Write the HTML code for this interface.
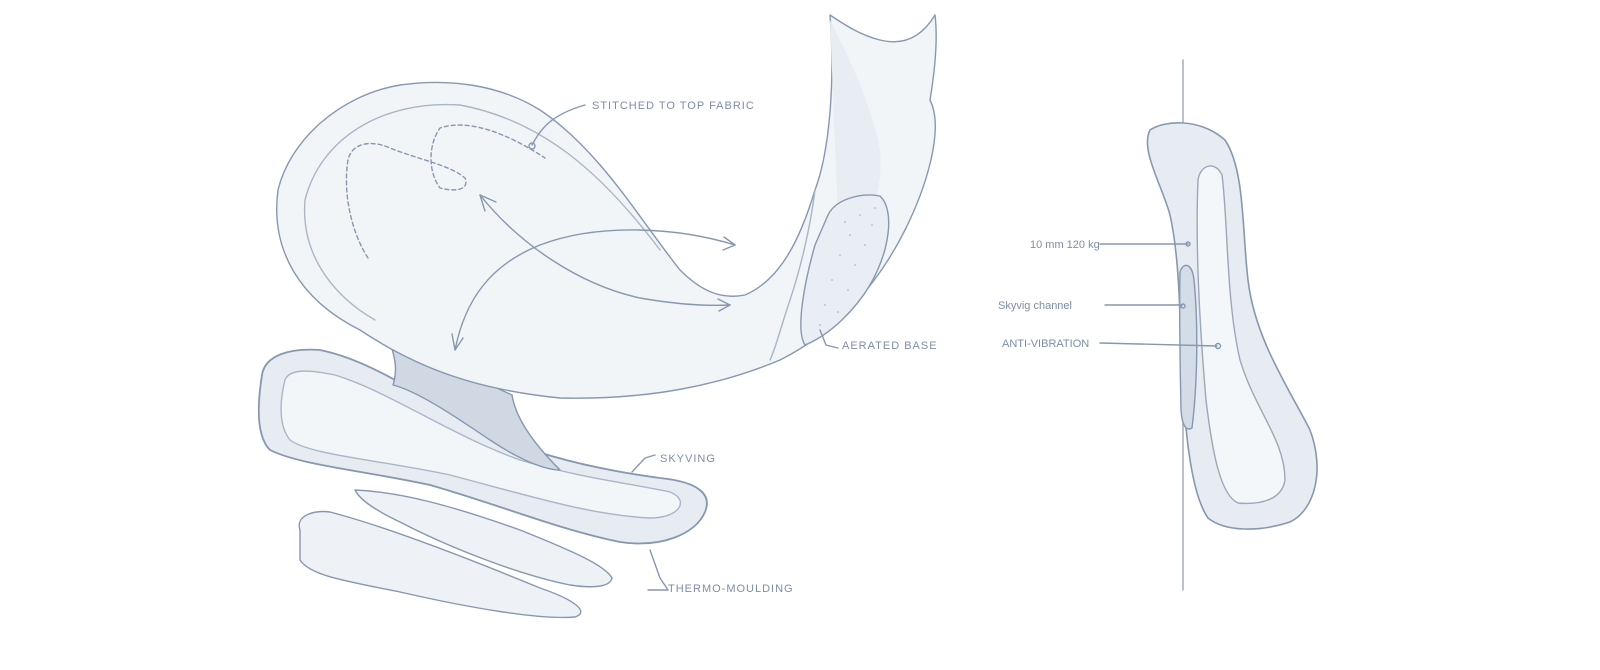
<!DOCTYPE html>
<html><head><meta charset="utf-8"><style>
html,body{margin:0;padding:0;background:#fff;}
svg{display:block;}
text{font-family:"Liberation Sans",sans-serif;fill:#7d8ea6;font-size:11px;letter-spacing:1px;}
</style></head><body>
<svg width="1600" height="670" viewBox="0 0 1600 670" xmlns="http://www.w3.org/2000/svg">
<g fill="none" stroke="#8698b0" stroke-width="1.4" stroke-linecap="round" stroke-linejoin="round">
<!-- bottom pads -->
<path d="M300,530 C295,515 315,510 330,512 C380,525 460,555 540,588 C575,600 590,612 575,617 C540,620 470,608 400,592 C340,580 310,575 300,560 Z" fill="#eef2f6"/>
<path d="M355,490 C400,492 450,505 520,530 C570,550 605,565 612,578 C610,588 590,588 570,585 C520,575 450,548 400,522 C375,510 360,500 355,490 Z" fill="#eef2f6"/>
<!-- skyving slab -->
<path d="M262,375 C265,355 290,348 320,350 C370,360 420,395 470,425 C530,455 600,470 660,478 C700,482 712,495 705,512 C695,535 660,548 620,542 C560,530 500,505 430,485 C360,470 300,465 270,450 C255,435 258,400 262,375 Z" fill="#e6ecf2" stroke-width="1.8"/>
<path d="M285,380 C290,368 310,370 335,375 C390,392 450,435 520,460 C580,478 640,485 670,492 C690,500 680,518 650,518 C590,515 530,496 450,475 C380,460 310,455 290,440 C278,425 280,400 285,380 Z" fill="#f3f6f9" stroke="#a8b6c7"/>
<!-- connector stem -->
<path d="M388,338 C395,355 398,370 393,385 C420,392 460,420 490,440 C520,460 545,470 560,470 C530,440 515,415 512,395 Z" fill="#cfd8e3" stroke="#8698b0"/>
<!-- main body -->
<path d="M830,15 C835,80 830,150 815,190 C800,240 780,280 745,295 C720,300 700,290 680,270 C640,220 600,150 540,110 C500,85 450,78 400,85 C340,95 290,140 278,190 C270,250 300,300 360,330 C420,370 480,390 560,398 C650,400 720,385 780,360 C840,330 880,280 905,230 C925,190 945,130 930,100 C935,70 938,40 935,15 C920,40 900,45 880,40 C860,35 845,25 830,15 Z" fill="#f2f5f8"/>
<path d="M830,20 C850,60 870,100 880,150 C885,200 860,240 840,270" stroke="none" fill="#e8edf3"/>
<path d="M660,250 C600,170 540,120 460,105 C380,100 320,140 305,200 C300,260 340,300 375,320" stroke="#a8b6c7"/>
<path d="M815,190 C810,230 800,270 790,300 C780,330 775,350 770,360" stroke="#a8b6c7"/>
<!-- dashed stitched -->
<path d="M368,258 C350,230 343,190 348,160 C352,142 372,140 390,148 C420,160 450,165 465,178 C470,190 455,192 440,188 C428,172 428,145 440,128 C470,118 510,135 545,158" stroke-dasharray="4 3"/>
<!-- aerated base -->
<path d="M828,215 C835,200 860,192 880,196 C895,210 890,250 870,285 C855,310 830,335 805,345 C795,330 805,280 815,245 Z" fill="#e9eef4"/>
<g fill="#9aa8ba" stroke="none">
<circle cx="860" cy="215" r="0.8"/><circle cx="872" cy="225" r="0.8"/><circle cx="850" cy="235" r="0.8"/><circle cx="865" cy="245" r="0.8"/><circle cx="840" cy="255" r="0.8"/><circle cx="855" cy="265" r="0.8"/><circle cx="832" cy="280" r="0.8"/><circle cx="848" cy="290" r="0.8"/><circle cx="825" cy="305" r="0.8"/><circle cx="838" cy="312" r="0.8"/><circle cx="820" cy="325" r="0.8"/><circle cx="875" cy="208" r="0.8"/><circle cx="845" cy="222" r="0.8"/>
</g>
<!-- arrows -->
<path d="M480,195 C520,245 580,285 640,298 C680,305 710,306 730,305"/>
<path d="M480,195 L485,211 M480,195 L496,202"/>
<path d="M730,305 L718,299 M730,305 L719,311"/>
<path d="M455,350 C465,300 490,265 540,245 C600,222 680,228 735,245"/>
<path d="M455,350 L452,334 M455,350 L463,338"/>
<path d="M735,245 L724,237 M735,245 L723,250"/>
<!-- leaders -->
<path d="M532,145 C540,130 550,115 585,105"/>
<circle cx="532" cy="146" r="3"/>
<path d="M820,330 L826,345 L838,348"/>
<path d="M632,472 L645,458 L655,455"/>
<path d="M650,550 L660,578 L668,590 L648,590"/>
<!-- right figure -->
<path d="M1183,60 L1183,590" stroke="#9aa8ba"/>
<path d="M1150,130 C1165,120 1200,118 1225,140 C1245,170 1242,230 1248,280 C1255,340 1290,390 1310,430 C1325,470 1315,510 1290,522 C1260,532 1225,532 1208,518 C1192,495 1186,440 1182,380 C1180,320 1180,260 1170,215 C1162,185 1140,150 1150,130 Z" fill="#e6ecf2" stroke-width="1.6"/>
<path d="M1198,180 C1200,165 1215,160 1222,175 C1228,220 1226,300 1240,360 C1255,410 1285,440 1285,480 C1282,500 1260,505 1238,503 C1220,495 1212,450 1206,400 C1200,330 1195,250 1198,180 Z" fill="#f4f7fa" stroke="#9aa8ba"/>
<path d="M1180,272 C1183,262 1192,262 1194,280 C1198,320 1198,380 1192,428 C1186,432 1182,425 1181,410 C1180,360 1179,310 1180,272 Z" fill="#d3dce7"/>
<path d="M1100,244 L1188,244"/>
<circle cx="1188" cy="244" r="2"/>
<path d="M1105,305 L1182,305"/>
<circle cx="1183" cy="306" r="2"/>
<path d="M1100,343 L1217,346"/>
<circle cx="1218" cy="346" r="2.5"/>
</g>
<text x="592" y="109">STITCHED TO TOP FABRIC</text>
<text x="842" y="349">AERATED BASE</text>
<text x="660" y="462">SKYVING</text>
<text x="668" y="592">THERMO-MOULDING</text>
<text x="1030" y="248" style="letter-spacing:0">10 mm 120 kg</text>
<text x="998" y="309" style="letter-spacing:0">Skyvig channel</text>
<text x="1002" y="347" style="letter-spacing:0">ANTI-VIBRATION</text>
</svg>
</body></html>
